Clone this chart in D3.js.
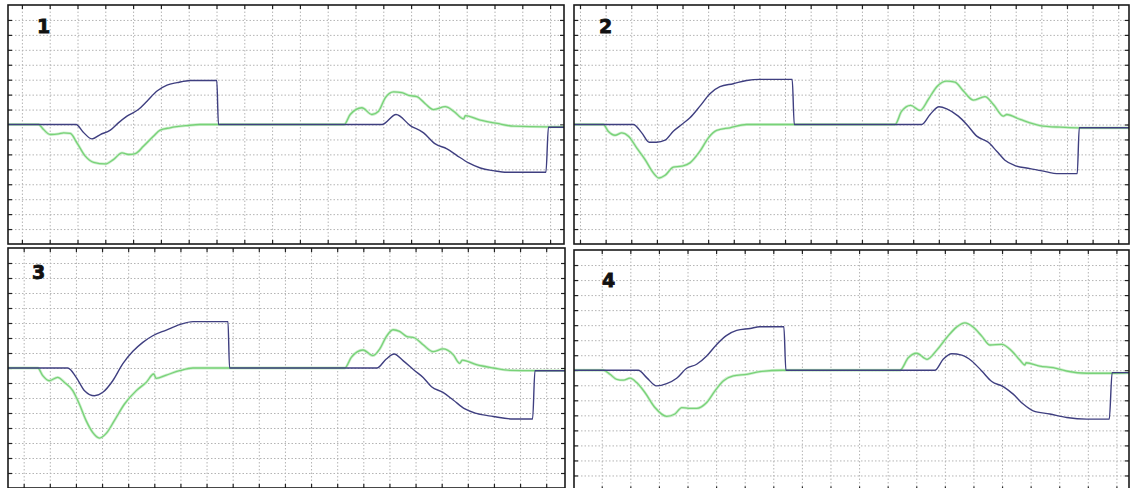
<!DOCTYPE html>
<html>
<head>
<meta charset="utf-8">
<script src="https://cdn.jsdelivr.net/npm/d3@7"></script>
<style>
  html, body { margin: 0; padding: 0; background: #fff; }
  svg { display: block; }
</style>
</head>
<body>
<svg id="chart" width="1130" height="488"></svg>
<script>
// ---- data (time units, signal units) ----
const panelLabels = ["1", "2", "3", "4"];
const yTickValues = [-7, -6, -5, -4, -3, -2, -1, 0, 1, 2, 3, 4, 5, 6, 7];

const p1Navy = [[-0.5,0],[1.95,0],[2.2,-0.5],[2.52,-0.96],[2.82,-0.67],[3.18,-0.38],[3.47,0.11],[3.78,0.56],[4.19,1.0],[4.5,1.56],[4.86,2.24],[5.22,2.64],[5.58,2.8],[6.05,2.95],[7.01,2.95],[7.07,0],[12.95,0],[13.46,0.67],[13.97,-0.07],[14.45,-0.56],[14.87,-1.3],[15.29,-1.63],[15.65,-2.08],[16.07,-2.57],[16.49,-2.91],[16.96,-3.09],[17.45,-3.2],[18.85,-3.2],[18.94,-0.18],[19.5,-0.18]];
const p1Green = [[-0.5,0],[0.6,0],[0.78,-0.34],[1.02,-0.67],[1.32,-0.63],[1.5,-0.56],[1.74,-0.6],[1.98,-1.23],[2.28,-2.12],[2.58,-2.53],[3.0,-2.64],[3.29,-2.35],[3.6,-1.9],[3.83,-2.01],[4.08,-1.95],[4.37,-1.46],[4.73,-0.79],[4.97,-0.38],[5.33,-0.22],[5.94,-0.07],[6.41,0],[11.59,0],[11.81,0.67],[12.23,1.12],[12.59,0.67],[12.83,0.89],[13.07,1.79],[13.37,2.19],[13.67,2.13],[13.91,1.95],[14.21,1.86],[14.51,1.39],[14.81,1.0],[15.23,1.19],[15.53,0.89],[15.89,0.38],[15.95,0.6],[16.49,0.29],[17.09,0.07],[17.69,-0.11],[18.88,-0.16],[19.5,-0.16]];

const p2Navy = [[-0.3,0],[2.08,0],[2.41,-0.56],[2.7,-1.19],[2.99,-1.19],[3.32,-1.05],[3.64,-0.45],[3.97,0],[4.29,0.45],[4.68,1.23],[5.07,2.06],[5.46,2.53],[5.98,2.73],[6.5,2.95],[7.02,3.02],[8.28,3.02],[8.36,0],[13.33,0],[13.66,0.67],[14.01,1.19],[14.31,1.05],[14.76,0.56],[15.09,0],[15.48,-0.78],[15.93,-1.19],[16.26,-1.79],[16.58,-2.39],[16.97,-2.75],[17.56,-2.95],[18.21,-3.17],[18.6,-3.29],[19.4,-3.29],[19.48,-0.22],[21.5,-0.22]];
const p2Green = [[-0.3,0],[0.91,0],[1.1,-0.45],[1.37,-0.72],[1.63,-0.56],[1.89,-0.78],[2.21,-1.56],[2.54,-2.35],[2.86,-3.24],[3.08,-3.58],[3.32,-3.4],[3.64,-2.86],[3.97,-2.79],[4.29,-2.57],[4.68,-1.79],[5.01,-0.89],[5.33,-0.4],[5.85,-0.22],[6.5,0],[12.29,0],[12.55,0.89],[12.9,1.28],[13.27,0.94],[13.59,1.68],[13.92,2.53],[14.31,2.91],[14.63,2.84],[14.96,2.24],[15.35,1.63],[15.8,1.86],[16.13,1.34],[16.52,0.56],[16.65,0.67],[17.17,0.34],[17.95,-0.07],[18.73,-0.18],[19.44,-0.22],[21.5,-0.22]];

const p3Navy = [[-0.7,0],[1.69,0],[2.01,-0.62],[2.33,-1.51],[2.71,-1.85],[3.03,-1.62],[3.41,-0.85],[3.79,0.27],[4.18,1.11],[4.56,1.71],[4.94,2.15],[5.46,2.53],[5.97,2.89],[6.48,3.09],[7.82,3.09],[7.88,0],[13.52,0],[13.88,0.6],[14.18,0.93],[14.52,0.49],[14.97,-0.18],[15.29,-0.63],[15.61,-1.25],[16.05,-1.63],[16.44,-2.13],[16.89,-2.73],[17.33,-3.03],[17.97,-3.23],[18.74,-3.4],[19.48,-3.4],[19.57,-0.18],[20.8,-0.18]];
const p3Green = [[-0.7,0],[0.54,0],[0.73,-0.51],[0.98,-0.85],[1.3,-0.62],[1.56,-0.96],[1.88,-1.51],[2.13,-2.4],[2.39,-3.51],[2.64,-4.29],[2.9,-4.67],[3.16,-4.36],[3.47,-3.51],[3.86,-2.4],[4.31,-1.51],[4.69,-0.96],[4.98,-0.4],[5.07,-0.69],[5.46,-0.47],[5.97,-0.18],[6.48,0],[12.29,0],[12.54,0.71],[12.99,1.2],[13.37,0.82],[13.63,1.27],[13.88,2.09],[14.14,2.55],[14.39,2.44],[14.65,2.11],[14.97,2.0],[15.29,1.55],[15.67,1.09],[16.05,1.27],[16.44,0.89],[16.69,0.31],[16.79,0.53],[17.33,0.22],[17.97,0],[18.61,-0.16],[19.57,-0.18],[20.8,-0.18]];

const p4Navy = [[-1,0],[1.28,0],[1.57,-0.49],[1.92,-1.04],[2.27,-0.89],[2.62,-0.53],[2.97,0.13],[3.32,0.4],[3.67,0.95],[4.02,1.72],[4.37,2.32],[4.72,2.65],[5.19,2.78],[5.53,2.89],[6.37,2.89],[6.44,0],[11.65,0],[11.94,0.73],[12.24,1.1],[12.59,1.01],[12.94,0.62],[13.29,-0.05],[13.64,-0.75],[14.04,-1.09],[14.39,-1.59],[14.74,-2.25],[15.09,-2.7],[15.67,-2.91],[16.26,-3.14],[16.96,-3.25],[17.75,-3.25],[17.85,-0.16],[18.5,-0.16]];
const p4Green = [[-1,0],[0.06,0],[0.29,-0.27],[0.52,-0.6],[0.76,-0.66],[0.99,-0.53],[1.22,-0.82],[1.51,-1.48],[1.86,-2.48],[2.27,-3.07],[2.56,-2.91],[2.8,-2.48],[3.03,-2.54],[3.32,-2.54],[3.67,-2.15],[3.96,-1.37],[4.25,-0.71],[4.6,-0.38],[5.07,-0.27],[5.53,-0.09],[6.3,0],[10.43,0],[10.72,0.83],[11.01,1.13],[11.38,0.73],[11.71,1.32],[12.06,2.16],[12.41,2.87],[12.7,3.15],[12.99,2.87],[13.29,2.27],[13.58,1.68],[13.99,1.72],[14.34,1.28],[14.63,0.66],[14.8,0.35],[14.84,0.5],[15.32,0.28],[15.79,0.17],[16.26,-0.05],[16.96,-0.2],[17.82,-0.2],[18.5,-0.17]];

const navySeries = [p1Navy, p2Navy, p3Navy, p4Navy];
const greenSeries = [p1Green, p2Green, p3Green, p4Green];
const xDomains = [[-0.5, 19.5], [-0.234, 21.42], [-0.6, 20.72], [-0.97, 18.44]];

// ---- layout ----
const frames = [
  {x0: 8,   x1: 564,  y0: 5,   y1: 244, lx: 37,  ly: 33},
  {x0: 574, x1: 1129, y0: 5,   y1: 244, lx: 599, ly: 33},
  {x0: 8,   x1: 565,  y0: 248, y1: 488, lx: 32,  ly: 279},
  {x0: 574, x1: 1129, y0: 250, y1: 490.5, lx: 602, ly: 287}
];

const svg = d3.select("#chart");
svg.append("rect").attr("width", 1130).attr("height", 488).attr("fill", "#fff");

frames.forEach((f, i) => {
  const x = d3.scaleLinear().domain(xDomains[i]).range([f.x0, f.x1]);
  const y = d3.scaleLinear().domain([-8, 8]).range([f.y1, f.y0]);
  const xt = d3.range(Math.ceil(xDomains[i][0]), Math.floor(xDomains[i][1]) + 1);
  const w = f.x1 - f.x0, h = f.y1 - f.y0;

  const clipId = "clip" + i;
  svg.append("clipPath").attr("id", clipId)
    .append("rect").attr("x", f.x0).attr("y", f.y0).attr("width", w).attr("height", h);

  const g = svg.append("g");

  // dotted grid
  const gx = g.append("g").attr("transform", `translate(0,${f.y1})`)
    .call(d3.axisBottom(x).tickValues(xt).tickSize(-h).tickFormat(""));
  const gy = g.append("g").attr("transform", `translate(${f.x0},0)`)
    .call(d3.axisLeft(y).tickValues(yTickValues).tickSize(-w).tickFormat(""));
  [gx, gy].forEach(a => {
    a.select(".domain").remove();
    a.selectAll("line").attr("stroke", "#b4b4b4").attr("stroke-width", 1)
      .attr("stroke-dasharray", "1.5,2");
  });

  // inward tick marks on all four sides
  const tl = 4;
  const axes = [
    g.append("g").attr("transform", `translate(0,${f.y0})`).call(d3.axisTop(x).tickValues(xt).tickSize(-tl).tickFormat("")),
    g.append("g").attr("transform", `translate(0,${f.y1})`).call(d3.axisBottom(x).tickValues(xt).tickSize(-tl).tickFormat("")),
    g.append("g").attr("transform", `translate(${f.x0},0)`).call(d3.axisLeft(y).tickValues(yTickValues).tickSize(-tl).tickFormat("")),
    g.append("g").attr("transform", `translate(${f.x1},0)`).call(d3.axisRight(y).tickValues(yTickValues).tickSize(-tl).tickFormat(""))
  ];
  axes.forEach(a => {
    a.select(".domain").remove();
    a.selectAll("line").attr("stroke", "#222").attr("stroke-width", 1.2);
  });

  // curves
  const line = d3.line().x(d => x(d[0])).y(d => y(d[1])).curve(d3.curveMonotoneX);
  const cg = g.append("g").attr("clip-path", `url(#${clipId})`);
  cg.append("path").datum(greenSeries[i]).attr("d", line)
    .attr("fill", "none").attr("stroke", "#cdeecd").attr("stroke-width", 2.8)
    .attr("stroke-linejoin", "round");
  cg.append("path").datum(greenSeries[i]).attr("d", line)
    .attr("fill", "none").attr("stroke", "#78d278").attr("stroke-width", 1.3)
    .attr("stroke-linejoin", "round");
  cg.append("path").datum(navySeries[i]).attr("d", line)
    .attr("fill", "none").attr("stroke", "#3f3f80").attr("stroke-width", 1.4)
    .attr("stroke-linejoin", "round");

  // frame
  g.append("rect").attr("x", f.x0).attr("y", f.y0).attr("width", w).attr("height", h)
    .attr("fill", "none").attr("stroke", "#1a1a1a").attr("stroke-width", 1.6);

  // panel label
  g.append("text").attr("x", f.lx).attr("y", f.ly).text(panelLabels[i])
    .attr("font-family", "'DejaVu Sans', sans-serif")
    .attr("font-weight", "bold").attr("font-size", 19).attr("fill", "#111")
    .attr("stroke", "#111").attr("stroke-width", 0.8);
});
</script>
</body>
</html>
